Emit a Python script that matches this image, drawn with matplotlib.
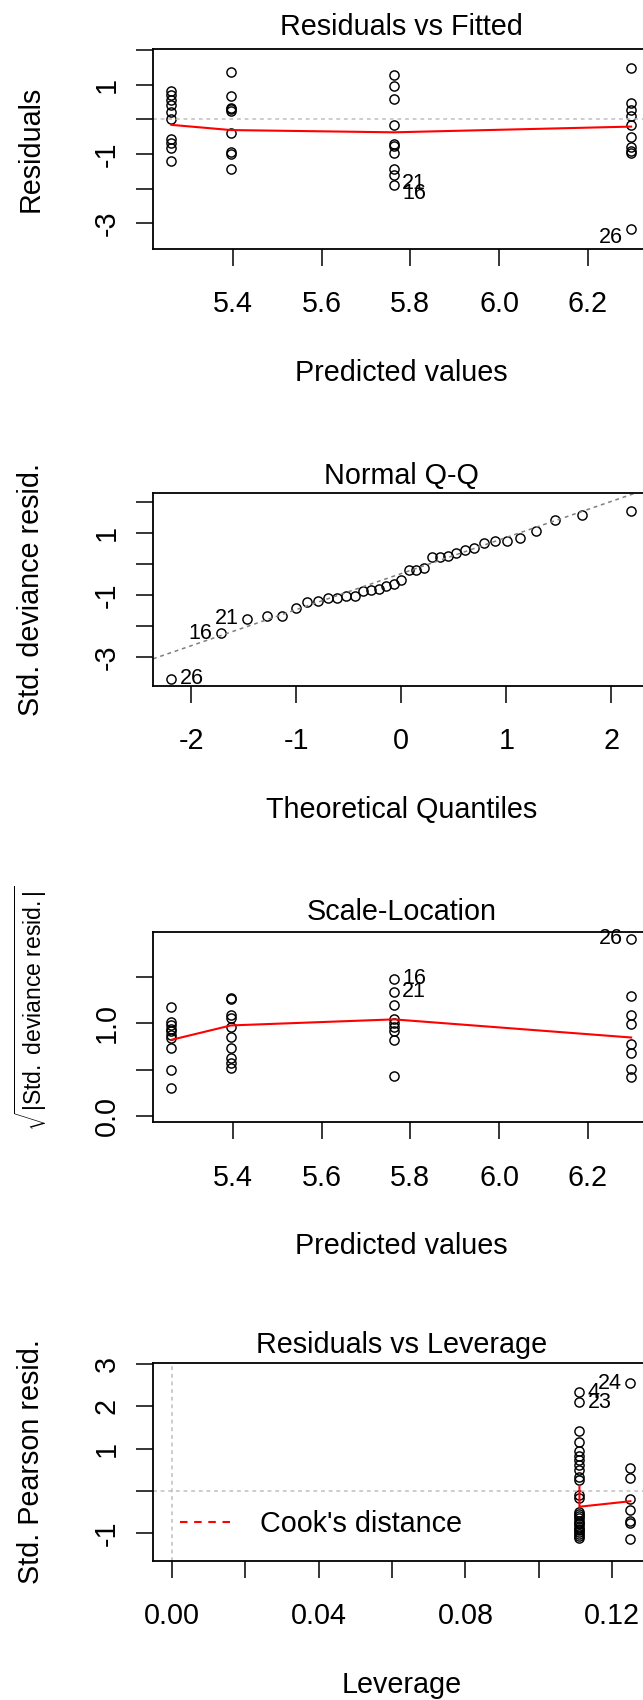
import matplotlib
matplotlib.use("Agg")
import matplotlib.pyplot as plt
import numpy as np
from statistics import NormalDist

plt.rcParams['font.family'] = ['Liberation Sans', 'DejaVu Sans']
plt.rcParams['mathtext.fontset'] = 'custom'
plt.rcParams['mathtext.rm'] = 'Liberation Sans'
plt.rcParams['mathtext.it'] = 'Liberation Sans:italic'

# ---- data ----
fitted_levels = [5.262, 5.396, 5.763, 6.297]

# deviance residuals per fitted level (panel 1)
resid_groups = [
    [0.82, 0.70, 0.55, 0.40, 0.22, 0.0, -0.56, -0.68, -0.82, -1.21],
    [1.36, 0.66, 0.34, 0.30, 0.25, -0.40, -0.95, -1.00, -1.42],
    [1.28, 0.95, 0.58, -0.16, -0.72, -0.78, -0.96, -1.42, -1.60, -1.89],
    [1.47, 0.46, 0.28, 0.10, -0.15, -0.52, -0.80, -0.90, -0.97, -3.16],
]
resid_smooth = [-0.16, -0.31, -0.375, -0.21]
resid_ids = [("21", 2, 8), ("16", 2, 9), ("26", 3, 9)]

# sorted standardized deviance residuals (panel 2)
qq_resid = [-3.70, -2.23, -1.77, -1.67, -1.66, -1.42, -1.21, -1.20, -1.10, -1.08,
            -1.04, -1.02, -0.88, -0.83, -0.81, -0.70, -0.63, -0.51, -0.18, -0.18,
            -0.13, 0.23, 0.23, 0.27, 0.35, 0.44, 0.52, 0.68, 0.73, 0.73,
            0.84, 1.08, 1.41, 1.59, 1.70]
qq_ids = [("26", 0), ("16", 1), ("21", 2)]

# sqrt(|std. deviance resid.|) per fitted level (panel 3)
scale_groups = [
    [1.175, 1.015, 0.98, 0.94, 0.91, 0.87, 0.835, 0.73, 0.49, 0.30],
    [1.27, 1.26, 1.086, 1.05, 0.96, 0.85, 0.73, 0.62, 0.57, 0.52],
    [1.48, 1.34, 1.19, 1.04, 1.00, 0.96, 0.91, 0.82, 0.43],
    [1.91, 1.29, 1.086, 0.99, 0.78, 0.68, 0.51, 0.42],
]
scale_smooth = [0.82, 0.975, 1.04, 0.845]
scale_ids = [("16", 2, 0), ("21", 2, 1), ("26", 3, 0)]

# leverage and std. Pearson residuals (panel 4)
leverage_levels = [0.1111, 0.125]
pearson_groups = [
    [2.33, 2.10, 1.42, 1.16, 0.93, 0.82, 0.73, 0.60, 0.49, 0.33, 0.25, -0.10,
     -0.18, -0.50, -0.56, -0.60, -0.65, -0.71, -0.76, -0.79, -0.85, -0.90,
     -0.94, -0.99, -1.03, -1.08, -1.13],
    [2.55, 0.53, 0.30, -0.19, -0.45, -0.72, -0.76, -1.15],
]
lev_smooth_x = [0.1111, 0.1111, 0.125]
lev_smooth_y = [0.11, -0.38, -0.25]
lev_ids = [("4", 0, 0), ("23", 0, 1), ("24", 1, 0)]

# ---- layout (pixels of the 643x1700 picture) ----
W, H = 643, 1700
LEFT, RIGHT = 153, 649.5
FS = 20.7
ID_FS = 15.5

fig = plt.figure(figsize=(W / 100, H / 100), dpi=100)


def make_axes(top, bottom):
    return fig.add_axes([LEFT / W, 1 - bottom / H, (RIGHT - LEFT) / W, (bottom - top) / H])


def style(ax, top, bottom, title, xlabel, ylabel, title_gap=22, ylab_fs=FS, ylab_y=0.5):
    h = bottom - top
    w = RIGHT - LEFT
    ax.set_title(title, fontsize=FS, pad=0, y=1 + title_gap / h, va='center')
    ax.set_xlabel(xlabel, fontsize=FS)
    ax.xaxis.label.set_va('center')
    ax.xaxis.set_label_coords(0.5, -124 / h)
    ax.set_ylabel(ylabel, fontsize=ylab_fs)
    ax.yaxis.label.set_va('center')
    ax.yaxis.set_label_coords((31 - LEFT) / w, ylab_y)
    ax.tick_params(direction='out', length=12.2, width=1.1, labelsize=FS, colors='black')
    ax.tick_params(axis='x', pad=17.5)
    ax.tick_params(axis='y', pad=11)
    for lab in ax.get_yticklabels():
        lab.set_rotation(90)
        lab.set_va('center')
    for sp in ax.spines.values():
        sp.set_linewidth(1.3)


def circles(ax, x, y):
    ax.plot(x, y, 'o', ls='none', mfc='none', mec='black', ms=6.6, mew=1.05)


def id_label(ax, text, x, y, right, dy=0):
    ax.annotate(text, (x, y), xytext=(6 if right else -6, dy), textcoords='offset points',
                ha='left' if right else 'right', va='center', fontsize=ID_FS)


dot = (0, (2.5, 2.5))
RED_LW = 1.5

# ---- panel 1: Residuals vs Fitted ----
top, bottom = 49.3, 249
ax1 = make_axes(top, bottom)
for xv, ys in zip(fitted_levels, resid_groups):
    circles(ax1, [xv] * len(ys), ys)
ax1.axhline(0, color='#BEBEBE', lw=1.1, ls=dot)
ax1.plot(fitted_levels, resid_smooth, color='red', lw=RED_LW)
for name, g, i in resid_ids:
    id_label(ax1, name, fitted_levels[g], resid_groups[g][i], right=(g == 2), dy=-6)
ax1.set_xlim(5.2205, 6.3384)
ax1.set_ylim(-3.741, 2.02)
ax1.set_xticks([5.4, 5.6, 5.8, 6.0, 6.2], ['5.4', '5.6', '5.8', '6.0', '6.2'])
ax1.set_yticks([-3, -2, -1, 0, 1, 2], ['-3', '', '-1', '', '1', ''])
style(ax1, top, bottom, 'Residuals vs Fitted', 'Predicted values', 'Residuals')

# ---- panel 2: Normal Q-Q ----
top, bottom = 492.7, 686
ax2 = make_axes(top, bottom)
n = len(qq_resid)
theo = [NormalDist().inv_cdf((i + 0.5) / n) for i in range(n)]
circles(ax2, theo, qq_resid)
q1, q3 = np.quantile(qq_resid, [0.25, 0.75])
z1, z3 = NormalDist().inv_cdf(0.25), NormalDist().inv_cdf(0.75)
ax2.axline((z1, q1), (z3, q3), color='#7F7F7F', lw=1.1, ls=dot)
for name, i in qq_ids:
    id_label(ax2, name, theo[i], qq_resid[i], right=(i == 0))
ax2.set_xlim(-2.364, 2.364)
ax2.set_ylim(-3.932, 2.303)
ax2.set_xticks([-2, -1, 0, 1, 2], ['-2', '-1', '0', '1', '2'])
ax2.set_yticks([-3, -2, -1, 0, 1, 2], ['-3', '', '-1', '', '1', ''])
style(ax2, top, bottom, 'Normal Q-Q', 'Theoretical Quantiles', 'Std. deviance resid.',
      title_gap=17)

# ---- panel 3: Scale-Location ----
top, bottom = 931.7, 1122.3
ax3 = make_axes(top, bottom)
for xv, ys in zip(fitted_levels, scale_groups):
    circles(ax3, [xv] * len(ys), ys)
ax3.plot(fitted_levels, scale_smooth, color='red', lw=RED_LW)
for name, g, i in scale_ids:
    id_label(ax3, name, fitted_levels[g], scale_groups[g][i], right=(g == 2))
ax3.set_xlim(5.2205, 6.3384)
ax3.set_ylim(-0.068, 1.984)
ax3.set_xticks([5.4, 5.6, 5.8, 6.0, 6.2], ['5.4', '5.6', '5.8', '6.0', '6.2'])
ax3.set_yticks([0, 0.5, 1.0, 1.5], ['0.0', '', '1.0', ''])
style(ax3, top, bottom, 'Scale-Location', 'Predicted values',
      r'$\sqrt{|\mathrm{Std.\ deviance\ resid.}|}$', title_gap=20, ylab_fs=16.5, ylab_y=0.6)

# ---- panel 4: Residuals vs Leverage ----
top, bottom = 1363.3, 1560.7
ax4 = make_axes(top, bottom)
for xv, ys in zip(leverage_levels, pearson_groups):
    circles(ax4, [xv] * len(ys), ys)
ax4.axhline(0, color='#BEBEBE', lw=1.1, ls=dot)
ax4.axvline(0, color='#BEBEBE', lw=1.1, ls=dot)
ax4.plot(lev_smooth_x, lev_smooth_y, color='red', lw=RED_LW)
for name, g, i in lev_ids:
    id_label(ax4, name, leverage_levels[g], pearson_groups[g][i], right=(g == 0))
ax4.plot([], [], color='red', lw=RED_LW, ls=(0, (3.6, 3.2)), label="Cook's distance")
h4 = bottom - top
ax4.legend(loc='center left', bbox_to_anchor=((180 - LEFT) / (RIGHT - LEFT), (bottom - 1524.3) / h4),
           frameon=False, borderpad=0, borderaxespad=0, handlelength=1.85,
           handletextpad=0.94, fontsize=FS)
ax4.set_xlim(-0.00518, 0.1302)
ax4.set_ylim(-1.66, 3.02)
ax4.set_xticks([0, 0.02, 0.04, 0.06, 0.08, 0.10, 0.12],
               ['0.00', '', '0.04', '', '0.08', '', '0.12'])
ax4.set_yticks([-1, 0, 1, 2, 3], ['-1', '', '1', '2', '3'])
style(ax4, top, bottom, 'Residuals vs Leverage', 'Leverage', 'Std. Pearson resid.',
      title_gap=18)

fig.savefig('out.png', dpi=100)
